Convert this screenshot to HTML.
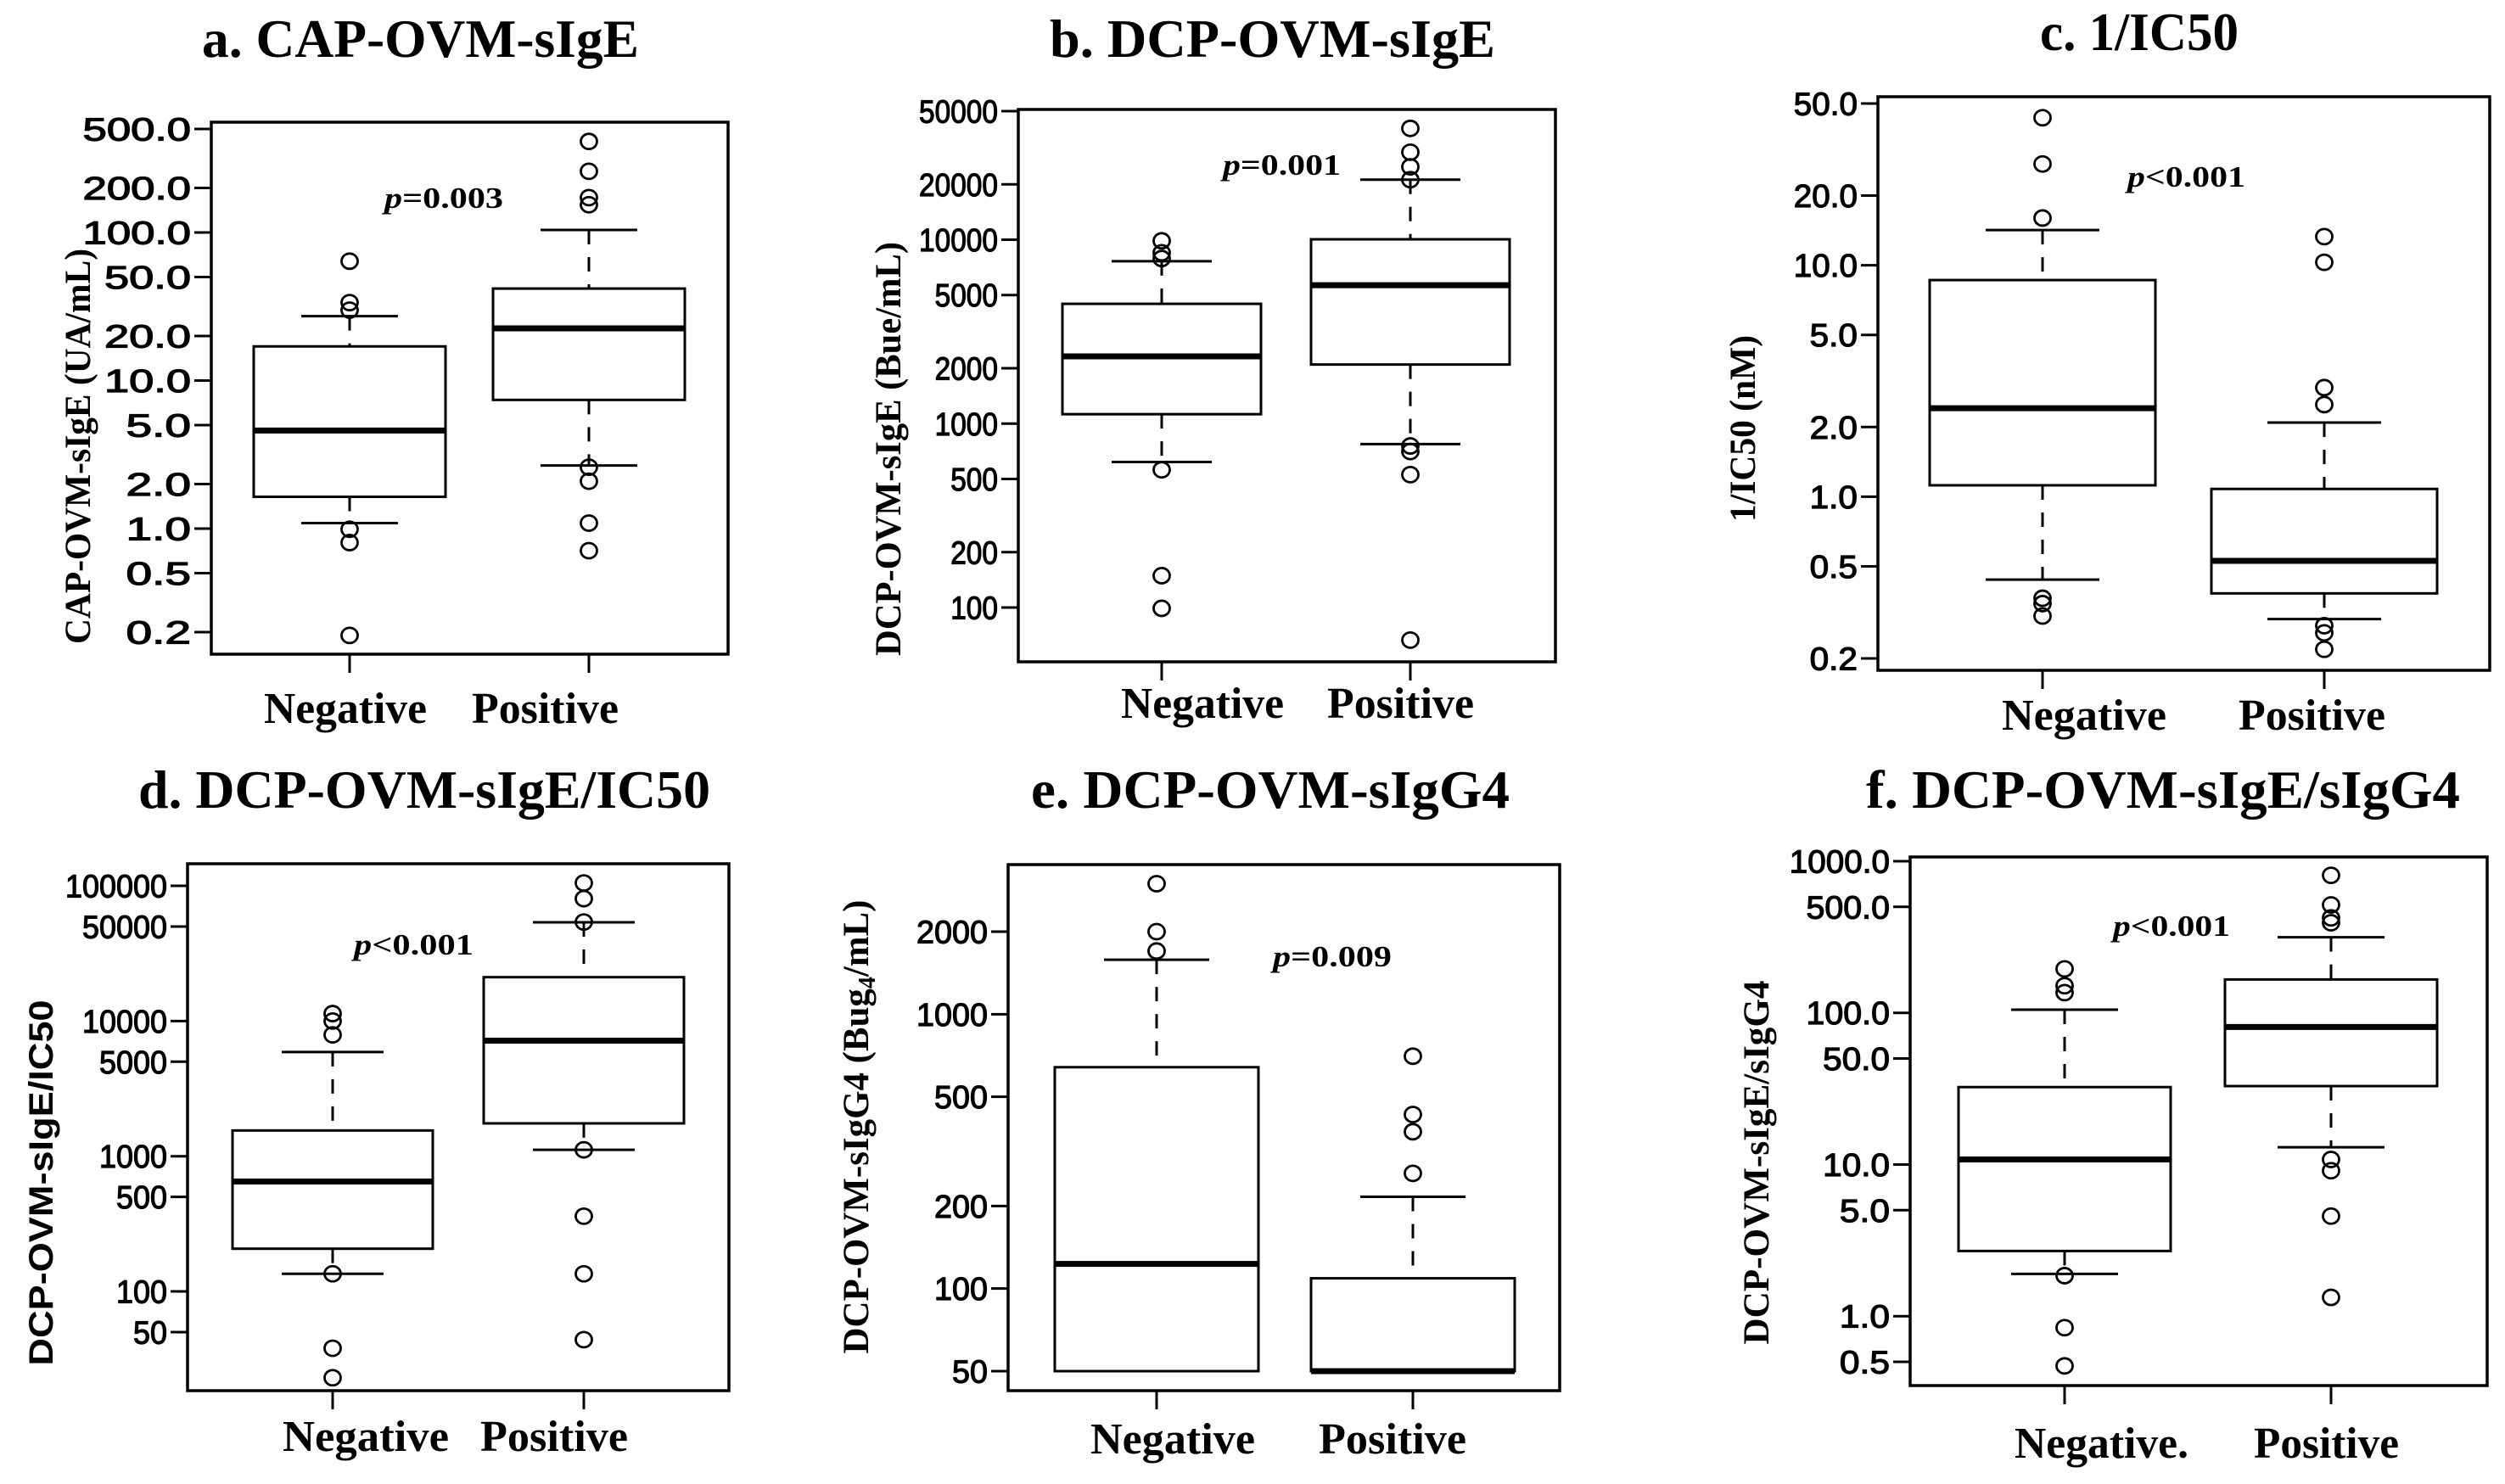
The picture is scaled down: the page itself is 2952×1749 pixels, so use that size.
<!DOCTYPE html>
<html><head><meta charset="utf-8"><style>
html,body{margin:0;padding:0;background:#fff;}
svg{display:block;}
</style></head><body>
<svg id="fig" width="2952" height="1749" viewBox="0 0 2952 1749" xmlns="http://www.w3.org/2000/svg">
<rect x="0" y="0" width="2952" height="1749" fill="#fff"/>
</svg>
<script>
// ---- data: [lowerWhisker, Q1, median, Q3, upperWhisker] ----
const aNegStats=[1.09,1.64,4.6,17,27.2];
const aPosStats=[2.67,7.4,22.5,41.8,104];
const aNegOut=[64,33.6,29.9,0.99,0.805,0.19];
const aPosOut=[412,259,172,154,2.6,2.09,1.09,0.71];
const aTicks=[0.2,0.5,1,2,5,10,20,50,100,200,500];
const aTickLabels=["0.2","0.5","1.0","2.0","5.0","10.0","20.0","50.0","100.0","200.0","500.0"];

const bNegStats=[618,1125,2320,4480,7640];
const bPosStats=[774,2095,5660,10050,21200];
const bNegOut=[9860,8490,7900,561,149,99];
const bPosOut=[40300,29900,24900,21200,756,705,528,66.5];
const bTicks=[100,200,500,1000,2000,5000,10000,20000,50000];
const bTickLabels=["100","200","500","1000","2000","5000","10000","20000","50000"];

const cNegStats=[0.438,1.12,2.41,8.63,14.2];
const cPosStats=[0.296,0.382,0.528,1.08,2.09];
const cNegOut=[43.4,27.4,16,0.364,0.345,0.305];
const cPosOut=[13.3,10.3,2.96,2.5,0.277,0.258,0.219];
const cTicks=[0.2,0.5,1,2,5,10,20,50];
const cTickLabels=["0.2","0.5","1.0","2.0","5.0","10.0","20.0","50.0"];

const dNegStats=[135,207,650,1550,5900];
const dPosStats=[1115,1750,7160,21100,53700];
const dNegOut=[11350,10000,7900,135,38,23];
const dPosOut=[105000,80400,54000,1115,360,135,44];
const dTicks=[50,100,500,1000,5000,10000,50000,100000];
const dTickLabels=["50","100","500","1000","5000","10000","50000","100000"];

const eNegStats=[50,50,123,641,1580];
const ePosStats=[50,50,50,109,216];
const eNegOut=[2990,2000,1700];
const ePosOut=[703,431,373,263];
const eTicks=[50,100,200,500,1000,2000];
const eTickLabels=["50","100","200","500","1000","2000"];

const fNegStats=[1.9,2.69,10.8,32.4,105];
const fPosStats=[13,32.9,80.7,166,315];
const fNegOut=[195,151,136,1.85,0.84,0.47];
const fPosOut=[807,515,423,393,10.8,9.1,4.57,1.33];
const fTicks=[0.5,1,5,10,50,100,500,1000];
const fTickLabels=["0.5","1.0","5.0","10.0","50.0","100.0","500.0","1000.0"];

const NS="http://www.w3.org/2000/svg";
const svg=document.getElementById('fig');
function mk(tag,attrs,parent){const e=document.createElementNS(NS,tag);for(const k in attrs)e.setAttribute(k,attrs[k]);(parent||svg).appendChild(e);return e;}
function txt(str,attrs,parent){const t=mk('text',attrs,parent);t.textContent=str;return t;}

function panel(c){
  const g=mk('g',{});
  
  
  const ly0=Math.log10(c.refV0), ly1=Math.log10(c.refV1);
  const Y=v=>c.refY0+(Math.log10(v)-ly0)/(ly1-ly0)*(c.refY1-c.refY0);
  const t=txt(c.title,{x:c.titleX,y:c.titleY,'font-family':'"Liberation Serif",serif','font-weight':'bold','font-size':64,textLength:c.titleW,lengthAdjust:'spacingAndGlyphs'},g);
  
  
  const fr=mk('rect',{x:c.fx0,y:c.fy0,width:c.fx1-c.fx0,height:c.fy1-c.fy0,fill:'none',stroke:'#000','stroke-width':3.5},g);
  
  
  c.ticks.forEach((v,i)=>{
    const y=Y(v);
    const tk=mk('line',{x1:c.fx0-20,x2:c.fx0,y1:y,y2:y,stroke:'#000','stroke-width':3},g);
    
    
    const lab=c.tickLabels[i];
    const lt=txt(lab,{x:c.fx0-24,y:y+13.5,'text-anchor':'end','font-family':'"Liberation Sans",sans-serif','font-size':38,stroke:'#000','stroke-width':1.2,textLength:lab.length*c.charW,lengthAdjust:'spacingAndGlyphs'},g);
    
    
  });
  const yt=txt(c.ytitle,{x:0,y:0,transform:`translate(${c.ytx},${c.ytc}) rotate(-90)`,'text-anchor':'middle','font-family':c.ySans?'"Liberation Sans",sans-serif':'"Liberation Serif",serif','font-weight':'bold','font-size':c.ySans?40:43,textLength:c.ytLen,lengthAdjust:'spacingAndGlyphs'},g);
  if(c.ySub){yt.textContent='';const a=mk('tspan',{},yt);a.textContent='DCP-OVM-sIgG4 (Bug';const s=mk('tspan',{'font-size':28,dy:8},yt);s.textContent='4';const b=mk('tspan',{dy:-8},yt);b.textContent='/mL)';}
  
  
  const groups=[{n:'negative',x:c.nx,s:c.negStats,o:c.negOut,lab:c.negLabel,lx:c.nlx,lw:c.nlw},{n:'positive',x:c.px,s:c.posStats,o:c.posOut,lab:'Positive',lx:c.plx,lw:c.plw}];
  groups.forEach(gr=>{
    const [lo,q1,md,q3,hi]=gr.s;
    const hb=c.hb, hc=c.hc;
    const xt=mk('line',{x1:gr.x,x2:gr.x,y1:c.fy1,y2:c.fy1+22,stroke:'#000','stroke-width':3},g);
    
    
    const xl=txt(gr.lab,{x:gr.lx,y:c.xly,'font-family':'"Liberation Serif",serif','font-weight':'bold','font-size':52,textLength:gr.lw,lengthAdjust:'spacingAndGlyphs'},g);
    
    
    if(hi>q3){
      const w=mk('line',{x1:gr.x,x2:gr.x,y1:Y(hi),y2:Y(q3),stroke:'#000','stroke-width':3,'stroke-dasharray':'17,15'},g);
      
      
    }
    const cu=mk('line',{x1:gr.x-hc,x2:gr.x+hc,y1:Y(hi),y2:Y(hi),stroke:'#000','stroke-width':3},g);
    
    
    if(lo<q1){
      const w2=mk('line',{x1:gr.x,x2:gr.x,y1:Y(q1),y2:Y(lo),stroke:'#000','stroke-width':3,'stroke-dasharray':'17,15'},g);
      
      
      const cl=mk('line',{x1:gr.x-hc,x2:gr.x+hc,y1:Y(lo),y2:Y(lo),stroke:'#000','stroke-width':3},g);
      
      
    }
    const bx=mk('rect',{x:gr.x-hb,y:Y(q3),width:2*hb,height:Y(q1)-Y(q3),fill:'#fff',stroke:'#000','stroke-width':3},g);
    
    
    const ml=mk('line',{x1:gr.x-hb,x2:gr.x+hb,y1:Y(md),y2:Y(md),stroke:'#000','stroke-width':7},g);
    
    
    gr.o.forEach(v=>{
      const ci=mk('ellipse',{cx:gr.x,cy:Y(v),rx:9.5,ry:9,fill:'none',stroke:'#000','stroke-width':2.8},g);
      
      
    });
  });
  const p=mk('text',{x:c.pX,y:c.pY,'font-family':'"Liberation Serif",serif','font-weight':'bold','font-size':35,textLength:c.pW,lengthAdjust:'spacingAndGlyphs'},g);
  const pi=mk('tspan',{'font-style':'italic'},p);pi.textContent='p';
  const pr=mk('tspan',{},p);pr.textContent=c.pText;
  
  
}

panel({key:'a',title:'a. CAP-OVM-sIgE',titleX:238,titleY:67,titleW:515,fx0:249,fx1:858,fy0:144,fy1:771,
  refV0:500,refY0:152,refV1:0.2,refY1:745,ticks:aTicks,tickLabels:aTickLabels,charW:25.5,
  ytitle:'CAP-OVM-sIgE (UA/mL)',ytx:106,ytc:526,ytLen:466,
  nx:412,px:694,hb:113,hc:57,negStats:aNegStats,posStats:aPosStats,negOut:aNegOut,posOut:aPosOut,
  negLabel:'Negative',nlx:311,nlw:192,plx:556,plw:173,xly:852,pX:453,pY:245,pW:140,pText:'=0.003'});
panel({key:'b',title:'b. DCP-OVM-sIgE',titleX:1237,titleY:67,titleW:525,fx0:1200,fx1:1833,fy0:129,fy1:780,
  refV0:50000,refY0:131,refV1:100,refY1:716,ticks:bTicks,tickLabels:bTickLabels,charW:18.6,
  ytitle:'DCP-OVM-sIgE (Bue/mL)',ytx:1061,ytc:529,ytLen:488,
  nx:1369,px:1662,hb:117,hc:59,negStats:bNegStats,posStats:bPosStats,negOut:bNegOut,posOut:bPosOut,
  negLabel:'Negative',nlx:1321,nlw:192,plx:1564,plw:173,xly:846,pX:1441,pY:206,pW:139,pText:'=0.001'});
panel({key:'c',title:'c. 1/IC50',titleX:2404,titleY:59,titleW:234,fx0:2213,fx1:2934,fy0:114,fy1:790,
  refV0:50,refY0:122,refV1:0.2,refY1:776,ticks:cTicks,tickLabels:cTickLabels,charW:18.8,
  ytitle:'1/IC50 (nM)',ytx:2068,ytc:505,ytLen:220,
  nx:2407,px:2739,hb:133,hc:67,negStats:cNegStats,posStats:cPosStats,negOut:cNegOut,posOut:cPosOut,
  negLabel:'Negative',nlx:2359,nlw:194,plx:2638,plw:173,xly:860,pX:2507,pY:220,pW:139,pText:'<0.001'});
panel({key:'d',title:'d. DCP-OVM-sIgE/IC50',titleX:163,titleY:952,titleW:674,fx0:221,fx1:859,fy0:1018,fy1:1639,
  refV0:100000,refY0:1044,refV1:50,refY1:1570,ticks:dTicks,tickLabels:dTickLabels,charW:20,
  ytitle:'DCP-OVM-sIgE/IC50',ytx:62,ytc:1394,ytLen:431,ySans:true,
  nx:392,px:688,hb:118,hc:60,negStats:dNegStats,posStats:dPosStats,negOut:dNegOut,posOut:dPosOut,
  negLabel:'Negative',nlx:333,nlw:196,plx:566,plw:174,xly:1710,pX:417,pY:1125,pW:141,pText:'<0.001'});
panel({key:'e',title:'e. DCP-OVM-sIgG4',titleX:1215,titleY:952,titleW:564,fx0:1188,fx1:1838,fy0:1019,fy1:1639,
  refV0:2000,refY0:1098,refV1:50,refY1:1616,ticks:eTicks,tickLabels:eTickLabels,charW:21,
  ytitle:'DCP-OVM-sIgG4 (Bug4/mL)',ytx:1023,ytc:1328,ytLen:535,ySub:true,
  nx:1363,px:1665,hb:120,hc:62,negStats:eNegStats,posStats:ePosStats,negOut:eNegOut,posOut:ePosOut,
  negLabel:'Negative',nlx:1285,nlw:194,plx:1554,plw:174,xly:1713,pX:1500,pY:1139,pW:140,pText:'=0.009'});
panel({key:'f',title:'f. DCP-OVM-sIgE/sIgG4',titleX:2199,titleY:952,titleW:700,fx0:2251,fx1:2931,fy0:1010,fy1:1633,
  refV0:1000,refY0:1015,refV1:0.5,refY1:1605,ticks:fTicks,tickLabels:fTickLabels,charW:19.7,
  ytitle:'DCP-OVM-sIgE/sIgG4',ytx:2084,ytc:1370,ytLen:429,
  nx:2433,px:2747,hb:125,hc:63,negStats:fNegStats,posStats:fPosStats,negOut:fNegOut,posOut:fPosOut,
  negLabel:'Negative.',nlx:2374,nlw:205,plx:2656,plw:171,xly:1718,pX:2490,pY:1103,pW:138,pText:'<0.001'});
</script>
</body></html>
